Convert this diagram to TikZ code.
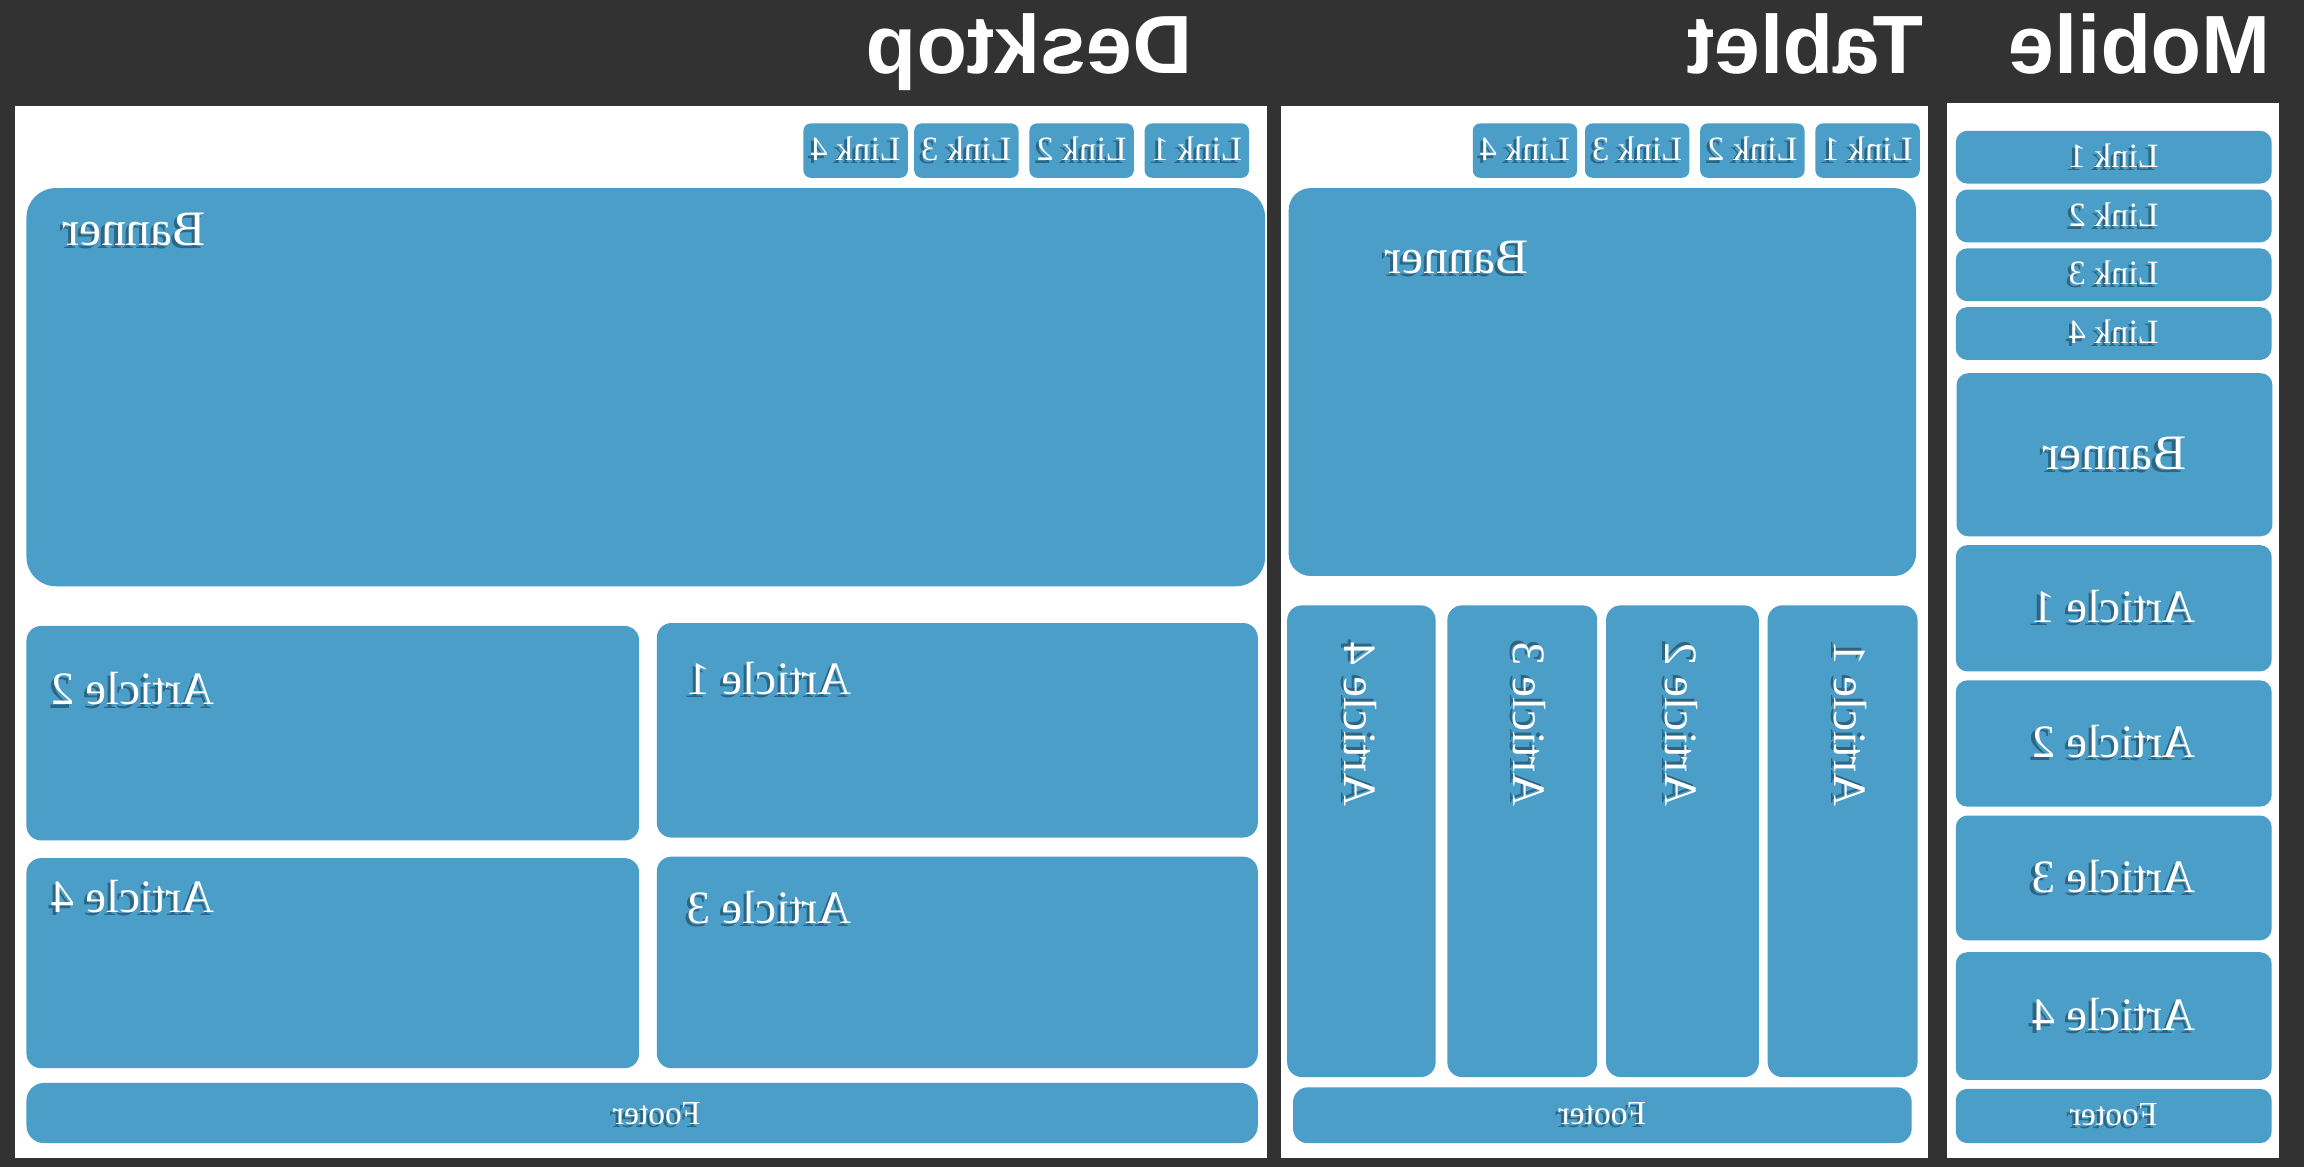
\documentclass[tikz,border=0pt]{standalone}
\usepackage{fontspec}
\setmainfont{Liberation Serif}
\newfontfamily\headfont{Liberation Sans}
\usepackage{xcolor}
\usetikzlibrary{positioning}

\definecolor{boxblue}{HTML}{4A9EC7}
\definecolor{darkbg}{HTML}{333233}
\definecolor{txtshadow}{HTML}{2E6583}

% mirrored white text with a soft dark shadow
\newcommand{\mirtxt}[1]{\reflectbox{\rlap{\kern0.6pt\raisebox{-0.6pt}{\color{txtshadow}#1}}#1}}

\begin{document}
\begin{tikzpicture}[x=0.1mm,y=-0.1mm,
    box/.style={fill=boxblue, rounded corners=1mm, inner sep=0pt, text=white},
    lnk/.style={box, rounded corners=0.5mm, minimum width=7.1mm, minimum height=3.7mm, font=\fontsize{6.6}{7}\selectfont},
    mlnk/.style={box, rounded corners=0.8mm, minimum width=21.5mm, minimum height=3.6mm, font=\fontsize{6.6}{7}\selectfont},
    mart/.style={box, rounded corners=0.8mm, minimum width=21.5mm, minimum height=8.6mm, font=\fontsize{9}{10}\selectfont},
    foot/.style={box, font=\fontsize{6.5}{7}\selectfont},
    lbl/.style={inner sep=0pt, text=white, font=\fontsize{9}{10}\selectfont},
    bannerfont/.style={font=\fontsize{9.6}{11}\selectfont},
    head/.style={inner sep=0pt, text=white, anchor=base east, font=\headfont\bfseries\fontsize{16}{18}\selectfont}]

        % Background and panels
        \fill[darkbg] (0,0) rectangle (1568,794);
        \fill[white] (10,72) rectangle (862,788);
        \fill[white] (872,72) rectangle (1312,788);
        \fill[white] (1325,70) rectangle (1551,788);

        % Headings
        \node[head] (hdesk) at (812,50) {\reflectbox{Desktop}};
        \node[head] (htab) at (1310,50) {\reflectbox{Tablet}};
        \node[head] (hmob) at (1546,50) {\reflectbox{Mobile}};

        % Desktop
        \node[lnk] (dl1) at (814.5,102.5) {\mirtxt{Link 1}};
        \node[lnk, left=0.6mm of dl1] (dl2) {\mirtxt{Link 2}};
        \node[lnk, left=0.6mm of dl2] (dl3) {\mirtxt{Link 3}};
        \node[lnk, left=0.3mm of dl3] (dl4) {\mirtxt{Link 4}};
        \node[box, rounded corners=2mm, minimum width=84.3mm, minimum height=27.1mm] (dban) at (439.5,263.5) {};
        \node[lbl, bannerfont, anchor=west] (dbant) at (42,157) {\mirtxt{Banner}};
        \node[box, minimum width=41.7mm, minimum height=14.6mm] (da2) at (226.5,499) {};
        \node[box, minimum width=40.9mm, minimum height=14.6mm] (da1) at (651.5,497) {};
        \node[box, minimum width=41.7mm, minimum height=14.3mm] (da4) at (226.5,655.5) {};
        \node[box, minimum width=40.9mm, minimum height=14.4mm] (da3) at (651.5,655) {};
        \node[lbl, anchor=west] (da2t) at (34,470) {\mirtxt{Article 2}};
        \node[lbl, anchor=west] (da1t) at (467,463) {\mirtxt{Article 1}};
        \node[lbl, anchor=west] (da4t) at (34,611) {\mirtxt{Article 4}};
        \node[lbl, anchor=west] (da3t) at (467,619) {\mirtxt{Article 3}};
        \node[foot, rounded corners=1.2mm, minimum width=83.8mm, minimum height=4.1mm] (dfoot) at (437,757.5) {};
        \node[lbl, font=\fontsize{6.5}{7}\selectfont] (dfoott) at (447,759) {\mirtxt{Footer}};

        % Tablet
        \node[lnk] (tl1) at (1271,102.5) {\mirtxt{Link 1}};
        \node[lnk, left=0.6mm of tl1] (tl2) {\mirtxt{Link 2}};
        \node[lnk, left=0.6mm of tl2] (tl3) {\mirtxt{Link 3}};
        \node[lnk, left=0.4mm of tl3] (tl4) {\mirtxt{Link 4}};
        \node[box, rounded corners=1.5mm, minimum width=42.7mm, minimum height=26.4mm] (tban) at (1090.5,260) {};
        \node[lbl, bannerfont, anchor=west] (tbant) at (942,176) {\mirtxt{Banner}};
        \node[box, minimum width=10.1mm, minimum height=32.1mm] (ta4) at (926.5,572.5) {};
        \node[box, minimum width=10.2mm, minimum height=32.1mm] (ta3) at (1036,572.5) {};
        \node[box, minimum width=10.4mm, minimum height=32.1mm] (ta2) at (1145,572.5) {};
        \node[box, minimum width=10.2mm, minimum height=32.1mm] (ta1) at (1254,572.5) {};
        \node[lbl, rotate=-90] (ta4t) at (925,493) {\mirtxt{Article 4}};
        \node[lbl, rotate=-90] (ta3t) at (1040,493) {\mirtxt{Article 3}};
        \node[lbl, rotate=-90] (ta2t) at (1143,493) {\mirtxt{Article 2}};
        \node[lbl, rotate=-90] (ta1t) at (1258,493) {\mirtxt{Article 1}};
        \node[foot, minimum width=42.1mm, minimum height=3.8mm] (tfoot) at (1090.5,759) {\mirtxt{Footer}};

        % Mobile
        \node[mlnk] (ml1) at (1438.5,107) {\mirtxt{Link 1}};
        \node[mlnk] (ml2) at (1438.5,147) {\mirtxt{Link 2}};
        \node[mlnk] (ml3) at (1438.5,187) {\mirtxt{Link 3}};
        \node[mlnk] (ml4) at (1438.5,227) {\mirtxt{Link 4}};
        \node[mart, bannerfont, minimum height=11.1mm] (mban) at (1439,309.5) {\mirtxt{Banner}};
        \node[mart] (ma1) at (1438.5,414) {\mirtxt{Article 1}};
        \node[mart] (ma2) at (1438.5,506) {\mirtxt{Article 2}};
        \node[mart, minimum height=8.5mm] (ma3) at (1438.5,597.5) {\mirtxt{Article 3}};
        \node[mart, minimum height=8.7mm] (ma4) at (1438.5,691.5) {\mirtxt{Article 4}};
        \node[foot, rounded corners=0.8mm, minimum width=21.5mm, minimum height=3.7mm] (mfoot) at (1438.5,759.5) {\mirtxt{Footer}};

    \end{tikzpicture}
\end{document}
